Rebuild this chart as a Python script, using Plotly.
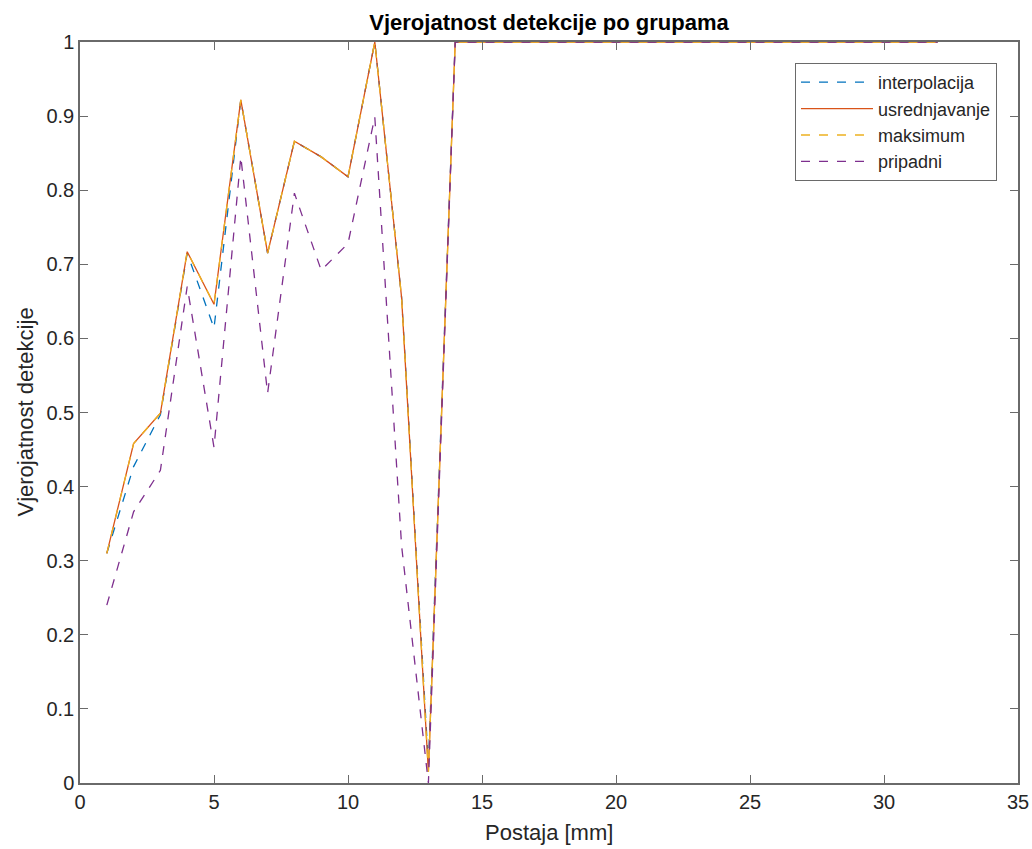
import plotly.graph_objects as go

# Station positions (1..32) and detection probability per method
postaja = list(range(1, 33))

usrednjavanje = [0.310, 0.458, 0.499, 0.717, 0.646, 0.922, 0.715, 0.866, 0.845, 0.818,
                 1.000, 0.655, 0.015] + [1.0] * 19
maksimum = list(usrednjavanje)
interpolacija = [0.310, 0.427, 0.497, 0.715, 0.614, 0.922, 0.715, 0.866, 0.845, 0.818,
                 1.000, 0.655, 0.025] + [1.0] * 19
pripadni = [0.240, 0.366, 0.422, 0.670, 0.453, 0.845, 0.526, 0.796, 0.692, 0.728,
            0.899, 0.320, 0.000] + [1.0] * 19

x_ticks = [0, 5, 10, 15, 20, 25, 30, 35]
y_ticks = [0, 0.1, 0.2, 0.3, 0.4, 0.5, 0.6, 0.7, 0.8, 0.9, 1]
y_tick_text = ["0", "0.1", "0.2", "0.3", "0.4", "0.5", "0.6", "0.7", "0.8", "0.9", "1"]

FONT = "Liberation Sans, Arial, Helvetica, sans-serif"
TXT = "#262626"
AX = "#6a6a6a"

W, H = 1032, 849
L, R, T, B = 80, 14, 42, 66

series = [
    ("interpolacija", interpolacija, "#0072BD", "dash"),
    ("usrednjavanje", usrednjavanje, "#D95319", "solid"),
    ("maksimum", maksimum, "#EDB120", "dash"),
    ("pripadni", pripadni, "#7E2F8E", "dash"),
]

fig = go.Figure()
for name, vals, color, dash in series:
    fig.add_trace(go.Scatter(
        x=postaja, y=vals, mode="lines", name=name,
        line=dict(color=color, width=1.3, dash=dash),
    ))

axis_common = dict(
    tickmode="array", ticks="inside", ticklen=8, tickcolor=AX, tickwidth=1,
    showline=True, linecolor=AX, linewidth=1.5, mirror="ticks",
    showgrid=False, zeroline=False, automargin=False, layer="above traces",
    tickfont=dict(size=20, color=TXT),
)

fig.update_layout(
    width=W, height=H,
    margin=dict(l=L, r=R, t=T, b=B),
    paper_bgcolor="white", plot_bgcolor="white",
    font=dict(family=FONT, color=TXT, size=20),
    title=dict(
        text="<b>Vjerojatnost detekcije po grupama</b>",
        x=(L + W - R) / 2 / W, xanchor="center",
        y=1 - 22 / H, yanchor="middle",
        font=dict(size=22, color="black", family=FONT),
    ),
    showlegend=True,
    legend=dict(
        x=(997 - L) / (W - L - R), xanchor="right",
        y=1 - (63 - T) / (H - T - B), yanchor="top",
        bgcolor="white", bordercolor=AX, borderwidth=1,
        font=dict(size=18, color=TXT, family=FONT),
        tracegroupgap=0, itemwidth=72,
    ),
    xaxis=dict(range=[0, 35], tickvals=x_ticks, **axis_common),
    yaxis=dict(range=[0, 1], tickvals=y_ticks, ticktext=y_tick_text, **axis_common),
    annotations=[
        dict(text="Postaja [mm]", xref="paper", yref="paper",
             x=0.5, y=0, xanchor="center", yanchor="middle",
             yshift=-(832 - (H - B)), showarrow=False,
             font=dict(size=22, color=TXT, family=FONT)),
        dict(text="Vjerojatnost detekcije", xref="paper", yref="paper",
             x=0, y=0.5, xanchor="center", yanchor="middle", textangle=-90,
             xshift=-(L - 25), showarrow=False,
             font=dict(size=22, color=TXT, family=FONT)),
    ],
)

fig.write_html("out.html")
